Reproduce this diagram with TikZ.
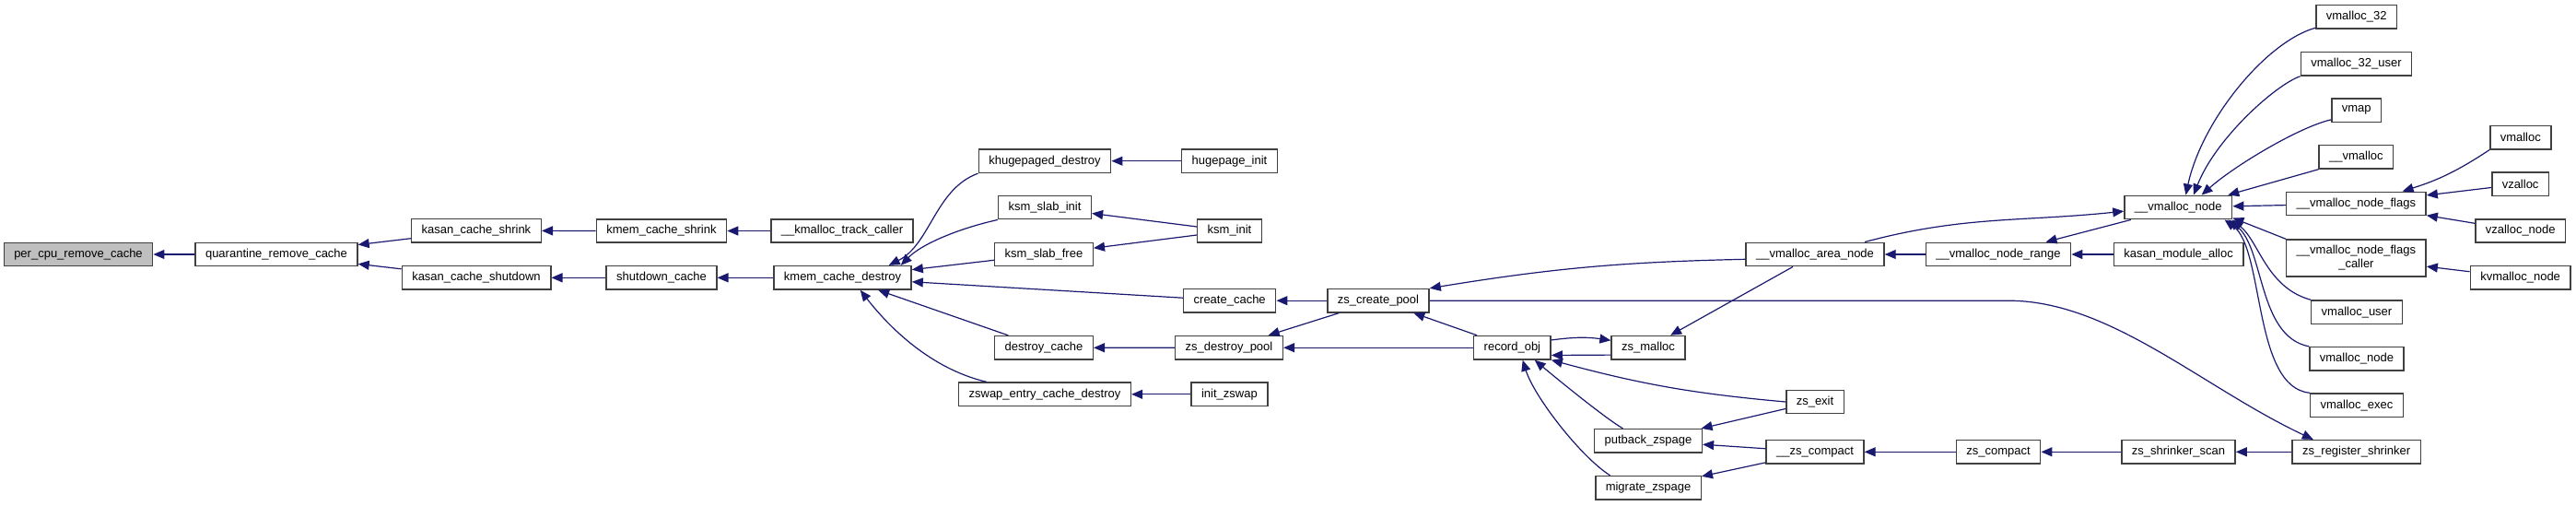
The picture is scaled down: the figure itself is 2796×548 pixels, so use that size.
\documentclass[tikz,border=0pt]{standalone}
\usepackage{fontspec}
\setmainfont{Liberation Sans}
\usepackage{tikz}
\usetikzlibrary{shapes,arrows.meta,positioning,calc}
\definecolor{edgeblue}{HTML}{191970}
\definecolor{boxgrey}{HTML}{404040}
\definecolor{rootgrey}{HTML}{BFBFBF}

\begin{document}
\begin{tikzpicture}[x=0.5pt, y=-0.5pt,
            func/.style={rectangle, draw=boxgrey, fill=white, line width=0.75pt, font=\fontsize{6.5}{7.5}\selectfont, inner xsep=5.5pt, inner ysep=0pt, minimum height=12.7pt},
            root/.style={func, fill=rootgrey},
            call/.style={-{Triangle[length=6pt,width=5pt]}, draw=edgeblue, line width=0.6pt}]
            \useasboundingbox (0,0) rectangle (2796,548);

            % Nodes, column by column
            \node[root] (perCpu) at (85,276) {per\_cpu\_remove\_cache};
            \node[func] (quarantine) at (300,276) {quarantine\_remove\_cache};
            \node[func] (kasanShrink) at (517,250.3) {kasan\_cache\_shrink};
            \node[func] (kasanShutdown) at (517,301.3) {kasan\_cache\_shutdown};
            \node[func] (kmemShrink) at (718,250.5) {kmem\_cache\_shrink};
            \node[func] (shutdownCache) at (718,301.3) {shutdown\_cache};
            \node[func] (kmallocTrack) at (914,250.5) {\_\_kmalloc\_track\_caller};
            \node[func] (kmemDestroy) at (914.5,301.3) {kmem\_cache\_destroy};
            \node[func] (khugeDestroy) at (1134,174.7) {khugepaged\_destroy};
            \node[func] (ksmSlabInit) at (1134,225) {ksm\_slab\_init};
            \node[func] (ksmSlabFree) at (1133,276) {ksm\_slab\_free};
            \node[func] (destroyCache) at (1133,377.3) {destroy\_cache};
            \node[func] (zswapDestroy) at (1134,427.8) {zswap\_entry\_cache\_destroy};
            \node[func] (hugepageInit) at (1334.5,174.7) {hugepage\_init};
            \node[func] (ksmInit) at (1334.5,250.5) {ksm\_init};
            \node[func] (createCache) at (1334.7,326.2) {create\_cache};
            \node[func] (zsDestroyPool) at (1334,377.2) {zs\_destroy\_pool};
            \node[func] (initZswap) at (1334.4,427.8) {init\_zswap};
            \node[func] (zsCreatePool) at (1496,326.2) {zs\_create\_pool};
            \node[func] (recordObj) at (1641.4,377.2) {record\_obj};
            \node[func] (zsMalloc) at (1789,377.2) {zs\_malloc};
            \node[func] (putbackZspage) at (1789,478.3) {putback\_zspage};
            \node[func] (migrateZspage) at (1789,529.3) {migrate\_zspage};
            \node[func] (vmAreaNode) at (1970,276) {\_\_vmalloc\_area\_node};
            \node[func] (zsExit) at (1970,436) {zs\_exit};
            \node[func] (zsCompactInt) at (1970,490.3) {\_\_zs\_compact};
            \node[func] (vmNodeRange) at (2169,276) {\_\_vmalloc\_node\_range};
            \node[func] (zsCompact) at (2169,490.3) {zs\_compact};
            \node[func] (vmNode) at (2364.3,225) {\_\_vmalloc\_node};
            \node[func] (kasanModule) at (2364.6,276) {kasan\_module\_alloc};
            \node[func] (zsShrinkerScan) at (2364.5,490.3) {zs\_shrinker\_scan};
            \node[func] (vmalloc32) at (2557.7,18.3) {vmalloc\_32};
            \node[func] (vmalloc32User) at (2557.5,69.3) {vmalloc\_32\_user};
            \node[func] (vmap) at (2557.7,119.8) {vmap};
            \node[func] (vmallocInt) at (2557.4,170.3) {\_\_vmalloc};
            \node[func] (vmNodeFlags) at (2557.4,221) {\_\_vmalloc\_node\_flags};
            \node[func, align=center, minimum height=20pt] (vmNodeFlagsCaller) at (2557.4,280) {\_\_vmalloc\_node\_flags\\\_caller};
            \node[func] (vmallocUser) at (2558,338.7) {vmalloc\_user};
            \node[func] (vmallocNode) at (2558,389.3) {vmalloc\_node};
            \node[func] (vmallocExec) at (2558,439.7) {vmalloc\_exec};
            \node[func] (zsRegShrinker) at (2557.7,490.3) {zs\_register\_shrinker};
            \node[func] (vmalloc) at (2735.8,149.2) {vmalloc};
            \node[func] (vzalloc) at (2735.6,199.7) {vzalloc};
            \node[func] (vzallocNode) at (2735.7,250.5) {vzalloc\_node};
            \node[func] (kvmallocNode) at (2735.6,301.3) {kvmalloc\_node};

            % Edges, caller to callee
            \draw[call] (quarantine) -- (perCpu);
            \draw[call] (kasanShrink) -- (quarantine);
            \draw[call] (kasanShutdown) -- (quarantine);
            \draw[call] (kmemShrink) -- (kasanShrink);
            \draw[call] (shutdownCache) -- (kasanShutdown);
            \draw[call] (kmallocTrack) -- (kmemShrink);
            \draw[call] (kmemDestroy) -- (shutdownCache);
            \draw[call] (khugeDestroy.south west) .. controls (1015,205) and (1010,265) .. (kmemDestroy.15);
            \draw[call] (ksmSlabInit.south west) .. controls (1040,248) and (1000,265) .. (kmemDestroy.12);
            \draw[call] (ksmSlabFree) -- (kmemDestroy);
            \draw[call] (createCache) -- (kmemDestroy);
            \draw[call] (destroyCache) -- (kmemDestroy);
            \draw[call] (zswapDestroy.168) .. controls (1010,400) and (965,355) .. (kmemDestroy.-35);
            \draw[call] (hugepageInit) -- (khugeDestroy);
            \draw[call] (ksmInit) -- (ksmSlabInit);
            \draw[call] (ksmInit) -- (ksmSlabFree);
            \draw[call] (zsCreatePool) -- (createCache);
            \draw[call] (zsDestroyPool) -- (destroyCache);
            \draw[call] (initZswap) -- (zswapDestroy);
            \draw[call] (zsCreatePool) -- (zsDestroyPool);
            \draw[call] (recordObj) -- (zsDestroyPool);
            \draw[call] (recordObj) -- (zsCreatePool);
            \draw[call] (vmAreaNode.184) to[bend right=4] (zsCreatePool.north east);
            \draw[call] (zsCreatePool.east) -- (2180,326.2) .. controls (2290,326.2) and (2390,420) .. (zsRegShrinker.164);
            \draw[call] (recordObj.11) to[bend left=8] (zsMalloc.169);
            \draw[call] (zsMalloc.191) -- (recordObj.-11);
            \draw[call] (vmAreaNode) -- (zsMalloc);
            \draw[call] (zsExit.west) to[bend left=5] (recordObj.south east);
            \draw[call] (putbackZspage.154) .. controls (1741,453) and (1684,406) .. (recordObj.-29);
            \draw[call] (migrateZspage.162) .. controls (1715,495) and (1665,430) .. (recordObj.-50);
            \draw[call] (zsExit) -- (putbackZspage);
            \draw[call] (zsCompactInt) -- (putbackZspage);
            \draw[call] (zsCompactInt) -- (migrateZspage);
            \draw[call] (zsCompact) -- (zsCompactInt);
            \draw[call] (zsShrinkerScan) -- (zsCompact);
            \draw[call] (zsRegShrinker) -- (zsShrinkerScan);
            \draw[call] (vmNodeRange) -- (vmAreaNode);
            \draw[call] (vmAreaNode.14) to[out=15,in=186] (vmNode.184);
            \draw[call] (vmNode) -- (vmNodeRange);
            \draw[call] (kasanModule) -- (vmNodeRange);
            \draw[call] (vmalloc32.195) .. controls (2460,45) and (2390,130) .. (vmNode.59);
            \draw[call] (vmalloc32User.south west) .. controls (2470,92) and (2405,150) .. (vmNode.39);
            \draw[call] (vmap.200) .. controls (2495,138) and (2425,180) .. (vmNode.28);
            \draw[call] (vmallocInt.south west) -- (vmNode.14);
            \draw[call] (vmNodeFlags) -- (vmNode);
            \draw[call] (vmNodeFlagsCaller.north west) -- (vmNode.-11);
            \draw[call] (vmallocUser.north west) .. controls (2460,312) and (2452,262) .. (vmNode.-13);
            \draw[call] (vmallocNode.north west) .. controls (2450,365) and (2458,268) .. (vmNode.-14);
            \draw[call] (vmallocExec.north west) .. controls (2445,420) and (2458,270) .. (vmNode.-15);
            \draw[call] (vmalloc.south west) to[bend left=8] (vmNodeFlags.15);
            \draw[call] (vzalloc) -- (vmNodeFlags);
            \draw[call] (vzallocNode) -- (vmNodeFlags);
            \draw[call] (kvmallocNode) -- (vmNodeFlagsCaller);
\end{tikzpicture}
\end{document}
